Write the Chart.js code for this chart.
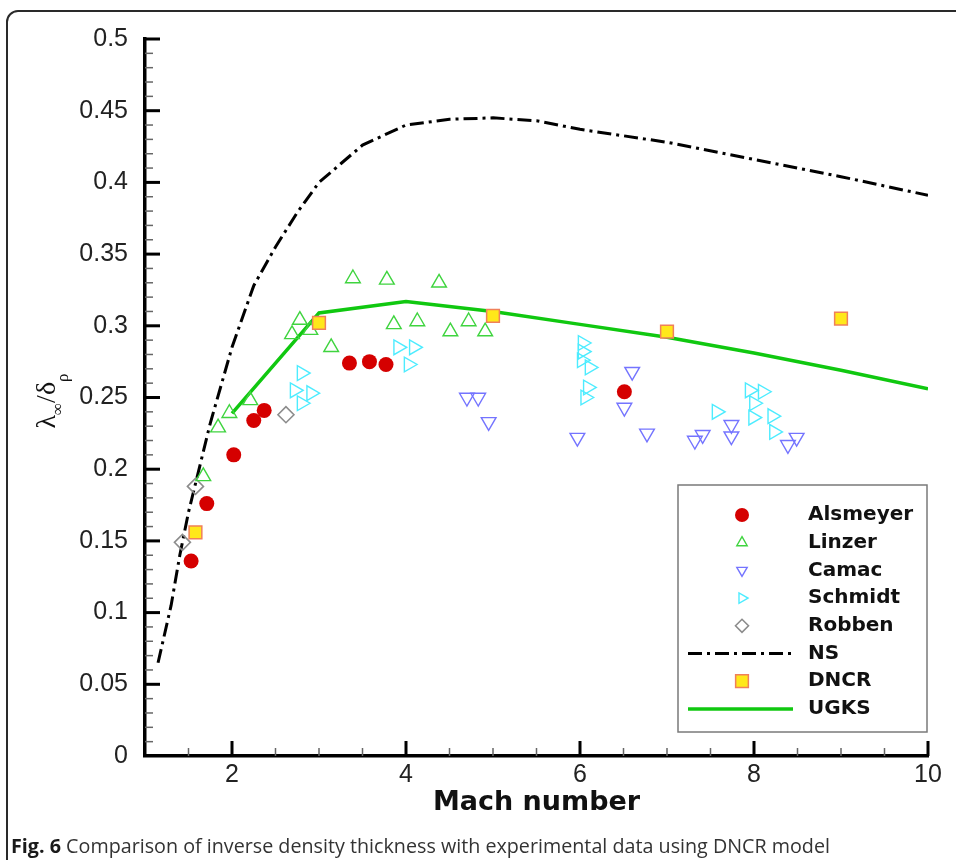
<!DOCTYPE html>
<html>
<head>
<meta charset="utf-8">
<script src="https://cdn.jsdelivr.net/npm/chart.js@4.4.1/dist/chart.umd.min.js"></script>
<style>
  html, body { margin: 0; padding: 0; background: #fff; }
  body { width: 956px; height: 860px; position: relative; overflow: hidden; }
  #frame { position: absolute; left: 6px; top: 10px; width: 1000px; height: 900px;
           border: 2px solid #2a2a2a; border-radius: 12px; box-sizing: border-box; }
  #wrap { position: absolute; left: 0; top: 0; width: 956px; height: 860px; }
  #caption { position: absolute; left: 11px; top: 832px; font-family: "Open Sans"; font-size: 20px;
             color: #333; white-space: nowrap; transform-origin: left top; }
  #caption b { color: #1a1a1a; }
</style>
</head>
<body>
<div id="frame"></div>
<div id="wrap"><canvas id="c" width="956" height="860"></canvas></div>
<div id="caption"><b>Fig. 6</b> Comparison of inverse density thickness with experimental data using DNCR model</div>
<script>
// axis ticks
const xTickValues = [2, 4, 6, 8, 10];
const yTickValues = [0, 0.05, 0.1, 0.15, 0.2, 0.25, 0.3, 0.35, 0.4, 0.45, 0.5];

// experiments
const machAlsmeyer = [1.53, 1.71, 2.02, 2.25, 2.37, 3.35, 3.58, 3.77, 6.51];
const valAlsmeyer  = [0.136, 0.176, 0.210, 0.234, 0.241, 0.274, 0.275, 0.273, 0.254];

const machLinzer = [1.67, 1.84, 1.97, 2.21, 2.69, 2.78, 2.90, 3.14, 3.39, 3.78, 4.38, 3.86, 4.13, 4.51, 4.72, 4.91];
const valLinzer  = [0.195, 0.229, 0.239, 0.248, 0.294, 0.304, 0.297, 0.285, 0.333, 0.332, 0.330, 0.301, 0.303, 0.296, 0.303, 0.296];

const machCamac = [4.70, 4.83, 4.95, 5.97, 6.51, 6.60, 6.77, 7.32, 7.41, 7.74, 7.74, 8.39, 8.49];
const valCamac  = [0.250, 0.250, 0.233, 0.222, 0.243, 0.268, 0.225, 0.220, 0.224, 0.231, 0.223, 0.217, 0.222];

const machSchmidt = [2.80, 2.72, 2.91, 2.80, 3.91, 4.09, 4.03, 6.03, 6.03, 6.02, 6.11, 6.09, 6.06, 7.57, 7.95, 8.10, 8.00, 7.99, 8.21, 8.23];
const valSchmidt  = [0.267, 0.255, 0.253, 0.246, 0.285, 0.285, 0.273, 0.288, 0.282, 0.276, 0.271, 0.257, 0.250, 0.240, 0.255, 0.254, 0.246, 0.236, 0.237, 0.226];

const machRobben = [1.43, 1.58, 2.62];
const valRobben  = [0.149, 0.188, 0.238];

// computations
const machNS = [1.15, 1.3, 1.4, 1.5, 1.75, 2.0, 2.25, 2.5, 2.75, 3.0, 3.25, 3.5, 4.0, 4.5, 5.0, 5.5, 6.0, 7.0, 8.0, 9.0, 10.0];
const valNS  = [0.065, 0.105, 0.14, 0.17, 0.232, 0.285, 0.328, 0.355, 0.379, 0.400, 0.413, 0.426, 0.440, 0.444, 0.445, 0.443, 0.437, 0.428, 0.416, 0.404, 0.391];

const machDNCR = [1.58, 3, 5, 7, 9];
const valDNCR  = [0.156, 0.302, 0.307, 0.296, 0.305];

const machUGKS = [2, 3, 4, 5, 6, 7, 8, 9, 10];
const valUGKS  = [0.239, 0.309, 0.317, 0.310, 0.301, 0.292, 0.281, 0.269, 0.256];

const toXY = (xs, ys) => xs.map((x, i) => ({ x, y: ys[i] }));

const tickFont = { family: '"Liberation Sans", Arial, sans-serif', size: 25 };

// ticks pointing into the plot, majors and minors
const innerTicks = {
  id: 'innerTicks',
  beforeDatasetsDraw(chart) {
    const { ctx, scales: { x, y }, chartArea: a } = chart;
    ctx.save();
    for (let i = 1; i <= 50; i++) {
      const major = i % 5 === 0;
      const py = y.getPixelForValue(i / 100);
      ctx.lineWidth = major ? 3 : 1.5;
      ctx.strokeStyle = major ? '#000' : '#666';
      ctx.beginPath();
      ctx.moveTo(a.left, py);
      ctx.lineTo(a.left + (major ? 15 : 8), py);
      ctx.stroke();
    }
    for (let i = 3; i <= 20; i++) {
      const major = i % 4 === 0;
      const px = x.getPixelForValue(i / 2);
      ctx.lineWidth = major ? 3 : 1.5;
      ctx.strokeStyle = major ? '#000' : '#666';
      ctx.beginPath();
      ctx.moveTo(px, a.bottom);
      ctx.lineTo(px, a.bottom - (major ? 15 : 8));
      ctx.stroke();
    }
    ctx.restore();
  }
};

// rotated y title with subscripts
const yTitle = {
  id: 'yTitle',
  afterDraw(chart) {
    const { ctx } = chart;
    const parts = [
      { t: 'λ', off: 0, size: 28 },
      { t: '∞', off: 8, size: 17 },
      { t: '/δ', off: 0, size: 28 },
      { t: 'ρ', off: 13, size: 17 }
    ];
    ctx.save();
    let w = 0;
    parts.forEach(p => {
      ctx.font = p.size + 'px "Liberation Serif", serif';
      p.w = ctx.measureText(p.t).width;
      w += p.w;
    });
    ctx.translate(55, 401 + w / 2);
    ctx.rotate(-Math.PI / 2);
    ctx.fillStyle = '#111';
    ctx.textBaseline = 'alphabetic';
    let cx = 0;
    parts.forEach(p => {
      ctx.font = p.size + 'px "Liberation Serif", serif';
      ctx.fillText(p.t, cx, p.off);
      cx += p.w;
    });
    ctx.restore();
  }
};

// boxed legend in the lower right corner
const boxLegend = {
  id: 'boxLegend',
  afterDraw(chart) {
    const { ctx } = chart;
    const left = 678, top = 485, w = 249, h = 247;
    ctx.save();
    ctx.fillStyle = '#fff';
    ctx.fillRect(left, top, w, h);
    ctx.strokeStyle = '#7a7a7a';
    ctx.lineWidth = 1.5;
    ctx.strokeRect(left, top, w, h);
    chart.data.datasets.forEach((ds, i) => {
      const ry = 515 + i * 27.7;
      if (ds.showLine) {
        ctx.strokeStyle = ds.borderColor;
        ctx.lineWidth = ds.borderWidth;
        ctx.setLineDash(ds.borderDash || []);
        ctx.beginPath();
        ctx.moveTo(688, ry);
        ctx.lineTo(793, ry);
        ctx.stroke();
        ctx.setLineDash([]);
      } else {
        ctx.fillStyle = ds.pointBackgroundColor;
        ctx.strokeStyle = ds.pointBorderColor;
        ctx.lineWidth = ds.pointBorderWidth;
        Chart.helpers.drawPoint(ctx, {
          pointStyle: ds.pointStyle,
          radius: ds.legendRadius,
          rotation: ds.pointRotation || 0,
          borderWidth: ds.pointBorderWidth
        }, 742, ry);
      }
      ctx.fillStyle = '#111';
      ctx.font = 'bold 20px "DejaVu Sans", sans-serif';
      ctx.textBaseline = 'middle';
      ctx.textAlign = 'left';
      ctx.fillText(ds.label, 808, ry);
    });
    ctx.restore();
  }
};

const clear = 'rgba(0,0,0,0)';

new Chart(document.getElementById('c'), {
  type: 'scatter',
  data: {
    datasets: [
      { label: 'Alsmeyer', data: toXY(machAlsmeyer, valAlsmeyer), pointStyle: 'circle', pointRadius: 7.5,
        pointBackgroundColor: '#d50000', pointBorderColor: '#d50000', pointBorderWidth: 0, legendRadius: 7, order: 2 },
      { label: 'Linzer', data: toXY(machLinzer, valLinzer), pointStyle: 'triangle', pointRadius: 8.5,
        pointBackgroundColor: clear, pointBorderColor: '#3fd43f', pointBorderWidth: 1.4, legendRadius: 6, order: 2 },
      { label: 'Camac', data: toXY(machCamac, valCamac), pointStyle: 'triangle', pointRotation: 180, pointRadius: 8.5,
        pointBackgroundColor: clear, pointBorderColor: '#7474ff', pointBorderWidth: 1.4, legendRadius: 6, order: 2 },
      { label: 'Schmidt', data: toXY(machSchmidt, valSchmidt), pointStyle: 'triangle', pointRotation: 90, pointRadius: 8.5,
        pointBackgroundColor: clear, pointBorderColor: '#4decff', pointBorderWidth: 1.4, legendRadius: 6, order: 2 },
      { label: 'Robben', data: toXY(machRobben, valRobben), pointStyle: 'rectRot', pointRadius: 8,
        pointBackgroundColor: clear, pointBorderColor: '#8c8c8c', pointBorderWidth: 1.6, legendRadius: 6.5, order: 2 },
      { label: 'NS', data: toXY(machNS, valNS), showLine: true, pointRadius: 0, borderColor: '#000',
        borderWidth: 3, borderDash: [14, 5, 3, 5], tension: 0, fill: false, order: 10 },
      { label: 'DNCR', data: toXY(machDNCR, valDNCR), pointStyle: 'rect', pointRadius: 9,
        pointBackgroundColor: '#ffe81a', pointBorderColor: '#f0805a', pointBorderWidth: 1.5, legendRadius: 9, order: 1 },
      { label: 'UGKS', data: toXY(machUGKS, valUGKS), showLine: true, pointRadius: 0, borderColor: '#10c810',
        borderWidth: 3.5, tension: 0, fill: false, order: 9 }
    ]
  },
  options: {
    responsive: false,
    animation: false,
    events: [],
    layout: { padding: { left: 0, right: 28, top: 39, bottom: 34 } },
    scales: {
      x: {
        type: 'linear', min: 1, max: 10,
        afterFit(s) { s.height = 70; },
        afterBuildTicks(s) { s.ticks = xTickValues.map(v => ({ value: v })); },
        grid: { display: false, drawTicks: false },
        border: { display: true, color: '#000', width: 3.5 },
        ticks: { font: tickFont, color: '#222', padding: 4, autoSkip: false, maxRotation: 0 },
        title: { display: true, text: 'Mach number', color: '#111',
                 font: { family: '"DejaVu Sans", sans-serif', size: 27, weight: 'bold' },
                 padding: { top: 0, bottom: 7 } }
      },
      y: {
        type: 'linear', min: 0, max: 0.5,
        afterFit(s) { s.width = 145; },
        afterBuildTicks(s) { s.ticks = yTickValues.map(v => ({ value: v })); },
        grid: { display: false, drawTicks: false },
        border: { display: true, color: '#000', width: 3.5 },
        ticks: { font: tickFont, color: '#222', padding: 17, autoSkip: false,
                 callback: v => String(Math.round(v * 100) / 100) }
      }
    },
    plugins: {
      legend: { display: false },
      tooltip: { enabled: false }
    }
  },
  plugins: [innerTicks, yTitle, boxLegend]
});

// squeeze the caption to the width it has in the figure
const cap = document.getElementById('caption');
cap.style.transform = 'scaleX(' + (819 / cap.scrollWidth) + ')';
</script>
</body>
</html>
